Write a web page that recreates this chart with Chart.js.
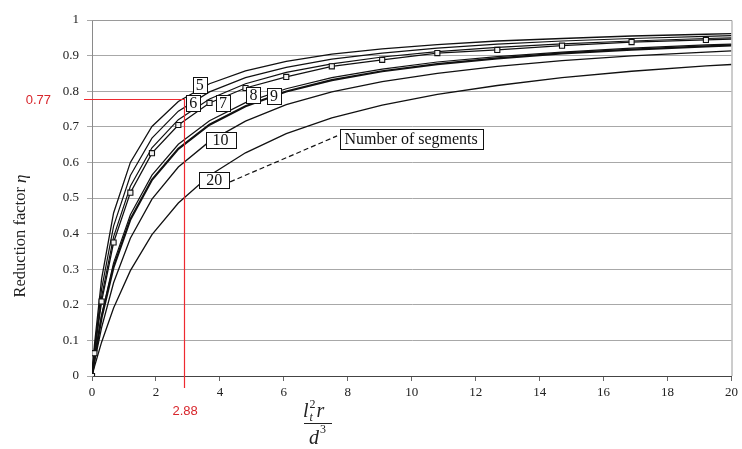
<!DOCTYPE html>
<html><head><meta charset="utf-8">
<script src="https://cdn.jsdelivr.net/npm/chart.js@4.4.1/dist/chart.umd.min.js"></script>
<style>html,body{margin:0;padding:0;background:#fff}#wrap{width:742px;height:449px;position:relative}canvas{display:block}</style>
</head><body><div id="wrap"><canvas id="c" width="742" height="449" style="width:742px;height:449px"></canvas></div>
<script>
// x values shared by all curves (l_t^2 r / d^3)
const xValues = [0, 0.075, 0.3, 0.675, 1.2, 1.875, 2.7, 3.675, 4.8, 6.075, 7.5, 9.075, 10.8, 12.675, 14.7, 16.875, 19.2, 20];
// reduction factor per number of segments
const eta5  = [0, 0.086, 0.273, 0.458, 0.600, 0.701, 0.771, 0.821, 0.857, 0.884, 0.904, 0.919, 0.931, 0.941, 0.948, 0.955, 0.960, 0.962];
const eta6  = [0, 0.075, 0.244, 0.421, 0.563, 0.668, 0.744, 0.798, 0.838, 0.867, 0.890, 0.907, 0.921, 0.932, 0.941, 0.948, 0.954, 0.956];
const eta7  = [0, 0.067, 0.222, 0.391, 0.533, 0.641, 0.720, 0.778, 0.821, 0.853, 0.877, 0.896, 0.911, 0.923, 0.933, 0.941, 0.948, 0.950];
const etaMarked = [0, 0.064, 0.209, 0.375, 0.515, 0.626, 0.705, 0.767, 0.809, 0.840, 0.870, 0.888, 0.907, 0.916, 0.928, 0.938, 0.944, 0.946];
const eta8  = [0, 0.049, 0.171, 0.318, 0.453, 0.564, 0.651, 0.717, 0.768, 0.807, 0.838, 0.862, 0.882, 0.897, 0.910, 0.921, 0.930, 0.932];
const eta9  = [0, 0.047, 0.164, 0.306, 0.440, 0.551, 0.638, 0.706, 0.758, 0.799, 0.831, 0.856, 0.876, 0.892, 0.906, 0.917, 0.926, 0.929];
const eta10 = [0, 0.038, 0.136, 0.262, 0.387, 0.497, 0.587, 0.659, 0.716, 0.762, 0.798, 0.827, 0.850, 0.870, 0.886, 0.899, 0.910, 0.913];
const eta20 = [0, 0.026, 0.095, 0.191, 0.296, 0.397, 0.486, 0.563, 0.627, 0.681, 0.725, 0.761, 0.791, 0.816, 0.838, 0.856, 0.871, 0.875];
// axis ticks
const xTicks = [0, 2, 4, 6, 8, 10, 12, 14, 16, 18, 20];
const yTicks = [0, 0.1, 0.2, 0.3, 0.4, 0.5, 0.6, 0.7, 0.8, 0.9, 1];
// reading example
const readX = 2.88;
const readY = 0.778;
const readXLabel = "2.88";
const readYLabel = "0.77";
// curve labels
const labelTexts = ["5", "6", "7", "8", "9", "10", "20", "Number of segments"];
const labelX = [3.37, 3.17, 4.10, 5.05, 5.69, 4.02, 3.82, 9.98];
const labelY = [0.817, 0.768, 0.768, 0.789, 0.787, 0.663, 0.551, 0.666];

const pts = arr => xValues.map((x, i) => ({x: x, y: arr[i]}));
const line = (arr, w) => ({data: pts(arr), borderColor: '#111', borderWidth: w, pointRadius: 0, tension: 0, fill: false});

const markedSet = Object.assign(line(etaMarked, 1.3), {
  pointStyle: 'rect',
  pointRadius: xValues.map((x, i) => i === xValues.length - 1 ? 0 : 3.6),
  pointBackgroundColor: '#f2f2f2', pointBorderColor: '#111', pointBorderWidth: 1.1
});

const SERIF = "'Liberation Serif', 'Times New Roman', serif";
const SANS = "'Liberation Sans', Arial, sans-serif";

const decor = {
  id: 'decor',
  afterDatasetsDraw(chart) {
    const ctx = chart.ctx, xs = chart.scales.x, ys = chart.scales.y, ca = chart.chartArea;
    ctx.save();
    // plot frame top/right
    ctx.strokeStyle = '#9a9a9a'; ctx.lineWidth = 1;
    ctx.beginPath(); ctx.moveTo(ca.left, ca.top + 0.5); ctx.lineTo(ca.right + 0.5, ca.top + 0.5); ctx.lineTo(ca.right + 0.5, ca.bottom); ctx.stroke();
    // red reading lines
    const rx = xs.getPixelForValue(readX), ry = ys.getPixelForValue(readY);
    ctx.strokeStyle = '#ee2a30'; ctx.lineWidth = 1.2;
    ctx.beginPath(); ctx.moveTo(84, Math.round(ry) + 0.5); ctx.lineTo(rx, Math.round(ry) + 0.5); ctx.stroke();
    ctx.beginPath(); ctx.moveTo(Math.round(rx) + 0.5, ry); ctx.lineTo(Math.round(rx) + 0.5, ca.bottom + 12); ctx.stroke();
    ctx.fillStyle = '#d8262c'; ctx.font = '13px ' + SANS; ctx.textBaseline = 'middle';
    ctx.textAlign = 'right'; ctx.fillText(readYLabel, 51, ry + 1);
    ctx.textAlign = 'center'; ctx.fillText(readXLabel, rx + 1, 411);
    // dashed leader from "20" to "Number of segments"
    ctx.strokeStyle = '#111'; ctx.lineWidth = 1.2; ctx.setLineDash([5, 3]);
    ctx.beginPath();
    ctx.moveTo(xs.getPixelForValue(labelX[6]) + 16, ys.getPixelForValue(labelY[6]) + 2);
    ctx.lineTo(xs.getPixelForValue(labelX[7]) - 74, ys.getPixelForValue(labelY[7]) - 3);
    ctx.stroke(); ctx.setLineDash([]);
    // label boxes
    ctx.font = '16px ' + SERIF; ctx.textAlign = 'center'; ctx.textBaseline = 'middle';
    labelTexts.forEach((t, i) => {
      const cx = xs.getPixelForValue(labelX[i]), cy = ys.getPixelForValue(labelY[i]);
      const w = ctx.measureText(t).width;
      const padX = t.length === 1 ? 3 : (t.length === 2 ? 7 : 5);
      const h = t.length > 2 ? 20 : 16;
      const bw = Math.round(w + padX * 2), bx = Math.round(cx - bw / 2) + 0.5, by = Math.round(cy - h / 2) + 0.5;
      ctx.fillStyle = '#fff'; ctx.fillRect(bx, by, bw, h);
      ctx.strokeStyle = '#111'; ctx.lineWidth = 1; ctx.strokeRect(bx, by, bw, h);
      ctx.fillStyle = '#111'; ctx.fillText(t, cx, cy + 1);
    });
    // y title
    ctx.save();
    ctx.translate(21, 236); ctx.rotate(-Math.PI / 2);
    ctx.fillStyle = '#222'; ctx.textBaseline = 'middle'; ctx.textAlign = 'left';
    ctx.font = '16.5px ' + SERIF;
    const t1 = 'Reduction factor ';
    const w1 = ctx.measureText(t1).width;
    ctx.font = 'italic 17px ' + SERIF;
    const w2 = ctx.measureText('η').width;
    const start = -(w1 + w2) / 2;
    ctx.font = '16.5px ' + SERIF; ctx.fillText(t1, start, 0);
    ctx.font = 'italic 17px ' + SERIF; ctx.fillText('η', start + w1, 1);
    ctx.restore();
    // x title fraction
    ctx.fillStyle = '#222'; ctx.textAlign = 'left'; ctx.textBaseline = 'alphabetic';
    let x0 = 303; const base = 417;
    ctx.font = 'italic 20px ' + SERIF; ctx.fillText('l', x0, base); x0 += ctx.measureText('l').width + 1;
    ctx.font = 'italic 12px ' + SERIF; ctx.fillText('t', x0, base + 4);
    ctx.font = '12px ' + SERIF; ctx.fillText('2', x0, base - 9); x0 += 7;
    ctx.font = 'italic 20px ' + SERIF; ctx.fillText('r', x0, base);
    ctx.fillRect(304, 423, 28, 1);
    ctx.font = 'italic 20px ' + SERIF; ctx.fillText('d', 309, 444);
    ctx.font = '12px ' + SERIF; ctx.fillText('3', 320, 433);
    ctx.restore();
  }
};

new Chart(document.getElementById('c'), {
  type: 'line',
  data: {
    datasets: [markedSet, line(eta5, 1.3), line(eta6, 1.2), line(eta7, 1.2), line(eta8, 1.2), line(eta9, 2.2), line(eta10, 1.3), line(eta20, 1.3)]
  },
  options: {
    responsive: false, animation: false, devicePixelRatio: 1,
    layout: {padding: {left: 0, top: 20, right: 9, bottom: 0}},
    plugins: {legend: {display: false}, tooltip: {enabled: false}},
    scales: {
      x: {
        type: 'linear', min: xTicks[0], max: xTicks[xTicks.length - 1],
        afterBuildTicks: s => { s.ticks = xTicks.map(v => ({value: v})); },
        ticks: {color: '#222', font: {family: SERIF, size: 13}, padding: 4, maxRotation: 0, autoSkip: false,
          callback: v => String(v)},
        grid: {drawOnChartArea: false, tickLength: 5, color: '#666'},
        border: {color: '#444', width: 1},
        afterFit: s => { s.height = 73; }
      },
      y: {
        type: 'linear', min: yTicks[0], max: yTicks[yTicks.length - 1],
        afterBuildTicks: s => { s.ticks = yTicks.map(v => ({value: v})); },
        ticks: {color: '#222', font: {family: SERIF, size: 13}, padding: 8, autoSkip: false,
          callback: v => String(Number(v.toFixed(2)))},
        grid: {color: '#a8a8a8', tickLength: 5},
        border: {color: '#8a8a8a', width: 1},
        afterFit: s => { s.width = 92; }
      }
    }
  },
  plugins: [decor]
});
</script></body></html>
